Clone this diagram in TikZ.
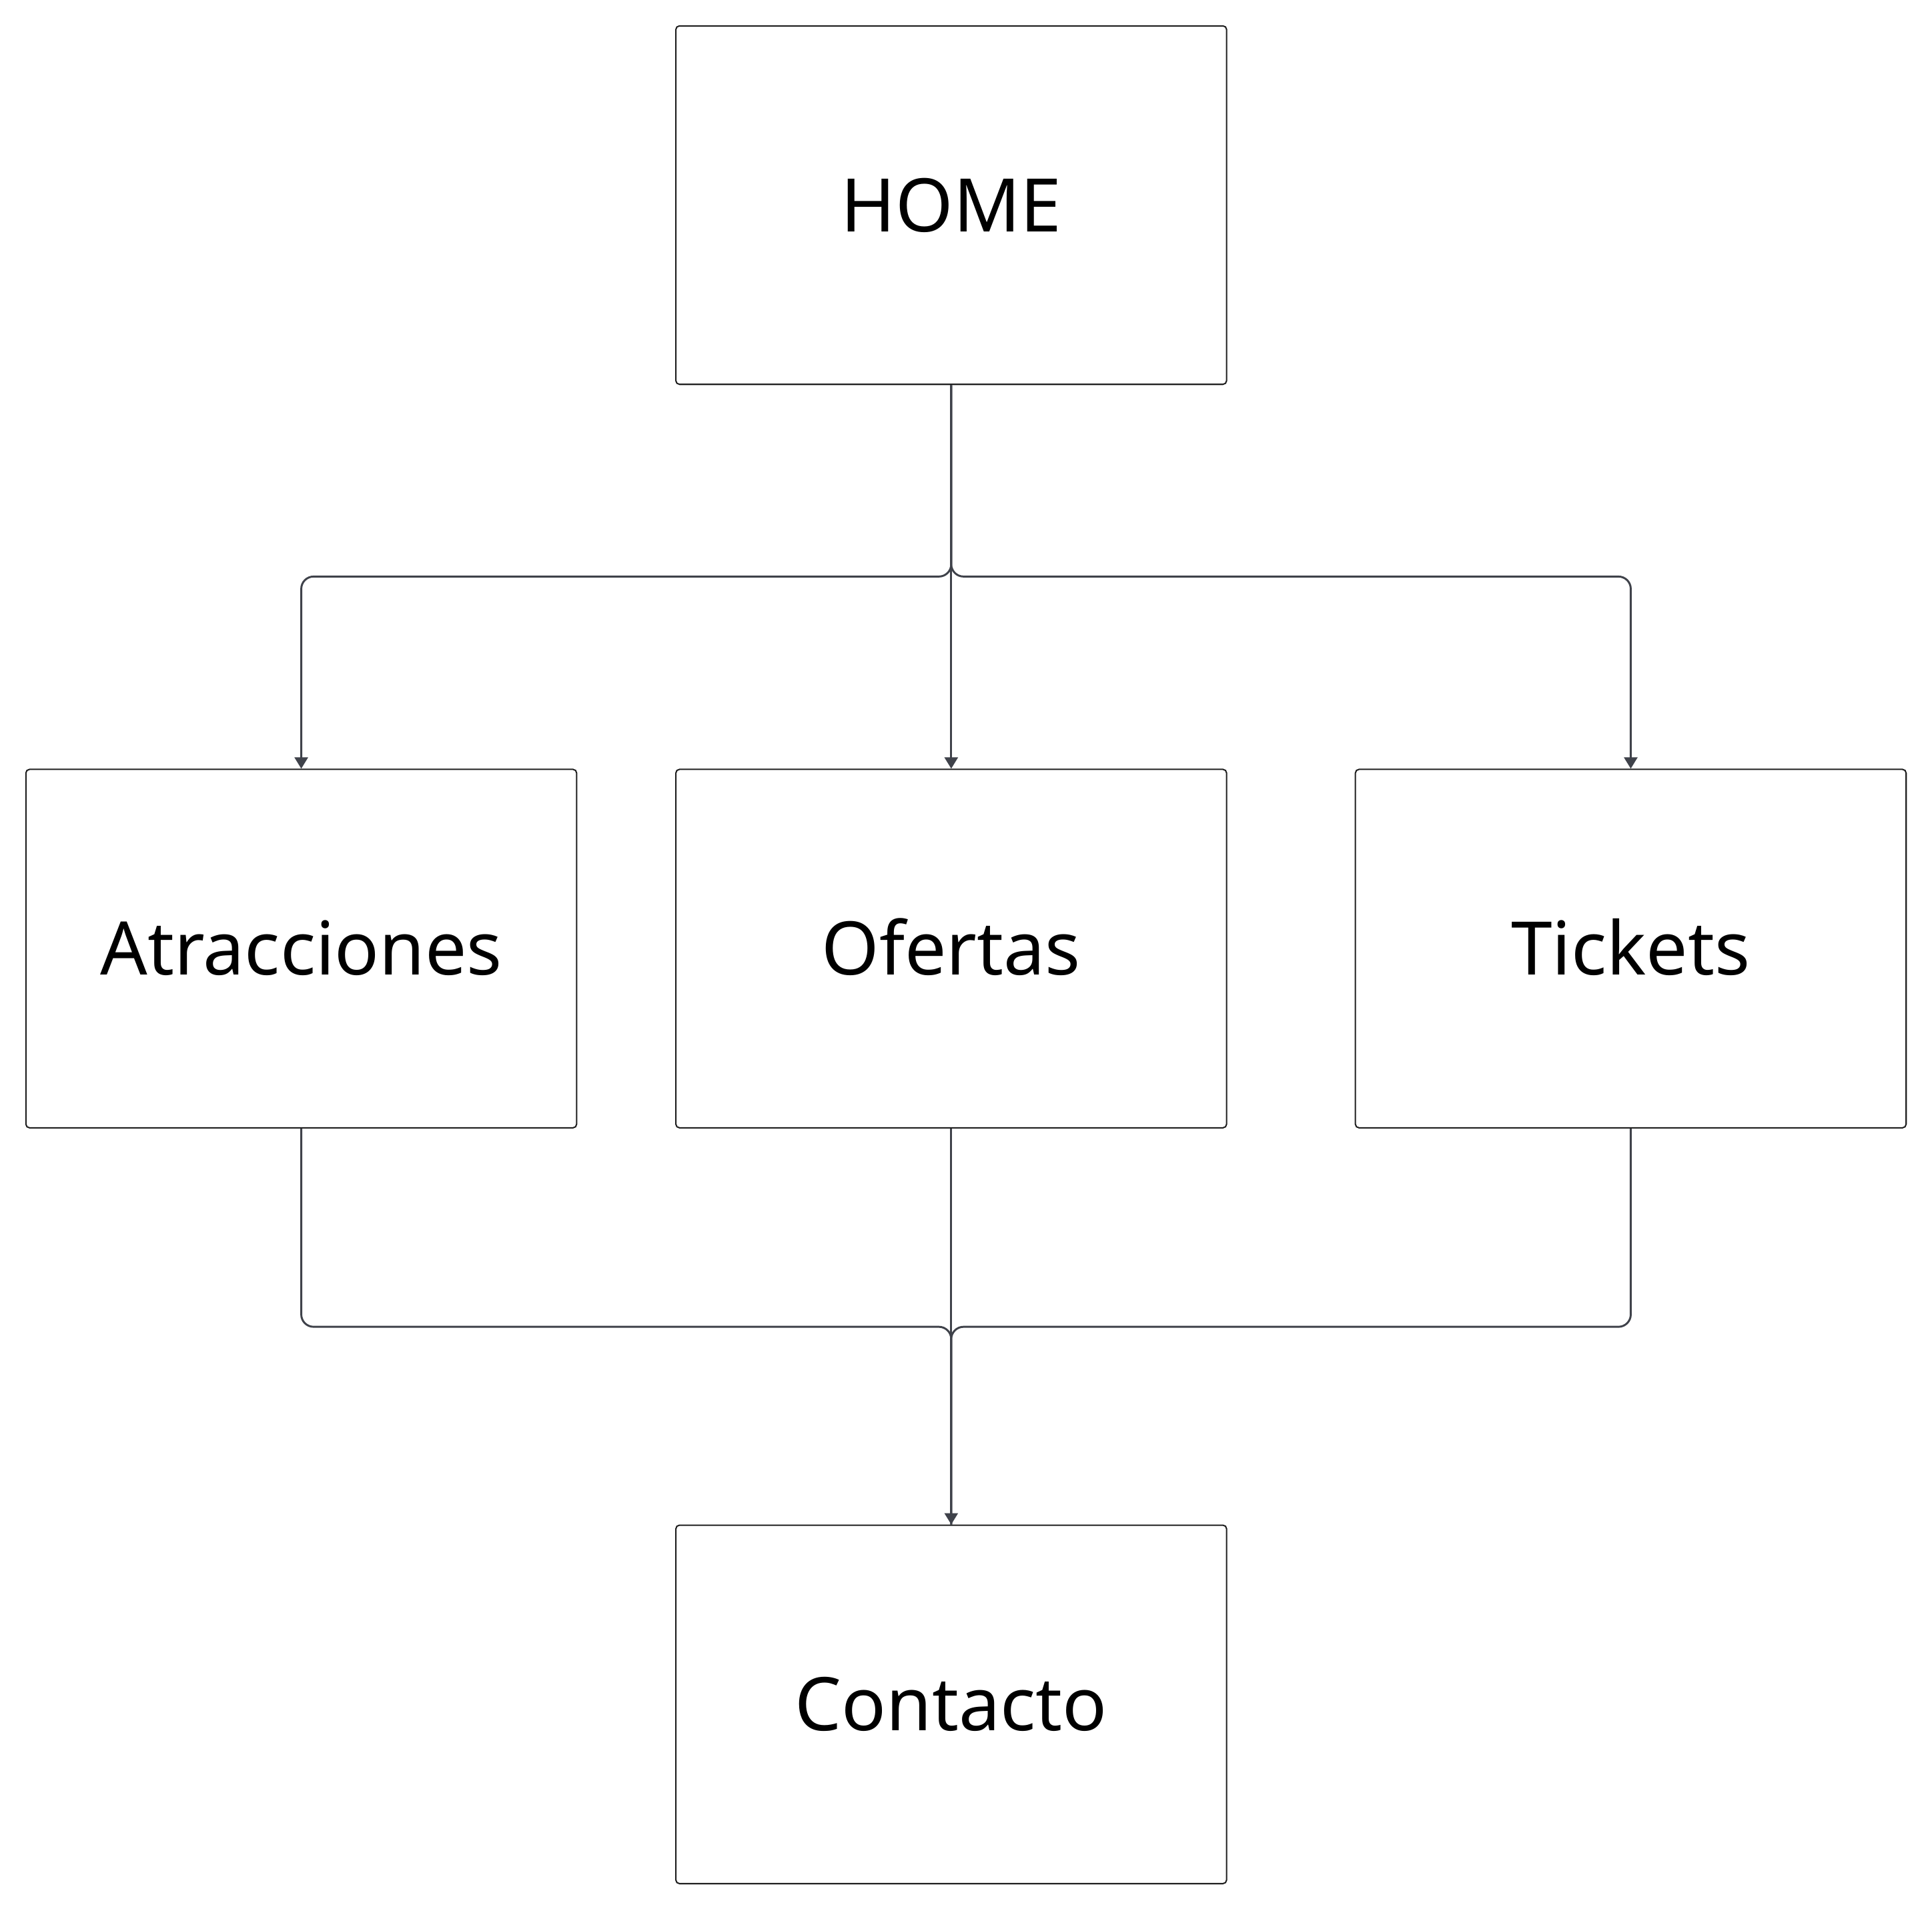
\documentclass[tikz,border=0pt]{standalone}
\usepackage{fontspec}
\setmainfont{Noto Sans}
\usetikzlibrary{arrows.meta}
\definecolor{linegray}{HTML}{3F424A}
\definecolor{boxline}{HTML}{1E1E1E}
\tikzset{
  pagebox/.style={draw=boxline, line width=0.55pt, rounded corners=1.5pt,
    minimum width=223.5pt, minimum height=145.5pt, inner sep=0pt,
    font=\fontsize{30}{36}\selectfont, text height=21.4pt, text depth=0pt},
  link/.style={draw=linegray, line width=0.8pt, rounded corners=5pt,
    -{Triangle[width=5.4pt,length=4.6pt]}},
  plainlink/.style={draw=linegray, line width=0.8pt, rounded corners=5pt}
}
\begin{document}
\begin{tikzpicture}[x=1pt,y=1pt]
\useasboundingbox (0,0) rectangle (784,-775.5);
\node[pagebox] (home) at (386,-83.25) {HOME};
\node[pagebox] (atr) at (122.25,-385) {Atracciones};
\node[pagebox] (ofe) at (386,-385) {Ofertas};
\node[pagebox] (tic) at (661.75,-385) {Tickets};
\node[pagebox] (con) at (386,-691.75) {Contacto};
\coordinate (topbus) at (386,-234);
\coordinate (lowbus) at (386,-538.5);
\draw[link] (home.south) -- (home.south |- topbus) -| (atr.north);
\draw[link] (home.south) -- (ofe.north);
\draw[link] (home.south) -- (home.south |- topbus) -| (tic.north);
\draw[plainlink] (atr.south) |- (lowbus) -- (con.north);
\draw[plainlink] (tic.south) |- (lowbus) -- (con.north);
\draw[link] (ofe.south) -- (con.north);
\end{tikzpicture}
\end{document}
